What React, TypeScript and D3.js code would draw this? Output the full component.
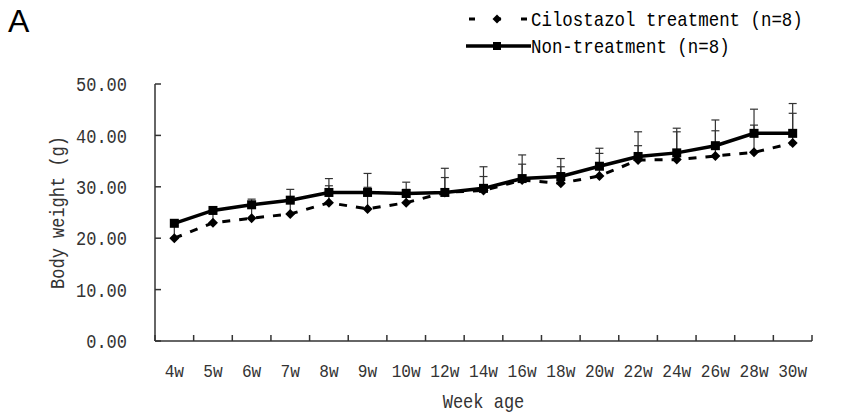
import React from 'react';
import * as d3 from 'd3';

const width = 857;
const height = 415;
const margin = {top: 84, right: 45, bottom: 74, left: 155};
const ink = '#000000';
const axisInk = '#333333';
const font = '"Liberation Mono", "DejaVu Sans Mono", monospace';

// week labels on the x axis
const weeks = ['4w', '5w', '6w', '7w', '8w', '9w', '10w', '12w', '14w', '16w', '18w', '20w', '22w', '24w', '26w', '28w', '30w'];
// mean body weight (g)
const nonTreatment = [22.9, 25.4, 26.5, 27.4, 28.9, 28.9, 28.7, 28.9, 29.7, 31.6, 32.0, 34.0, 35.9, 36.6, 38.0, 40.4, 40.4];
const cilostazol = [20.0, 23.0, 23.9, 24.7, 26.9, 25.7, 26.9, 28.9, 29.3, 31.3, 30.7, 32.1, 35.2, 35.3, 36.0, 36.7, 38.5];
// SD (upper error bars only)
const nonTreatmentSd = [0.6, 0.6, 1.1, 2.1, 2.7, 3.7, 2.2, 4.7, 4.2, 4.6, 3.5, 3.5, 4.8, 4.8, 5.0, 4.7, 5.8];
const cilostazolSd = [2.5, 2.0, 2.1, 2.3, 3.3, 4.2, 2.6, 2.9, 2.7, 3.1, 3.2, 4.4, 2.8, 5.4, 4.9, 5.3, 5.8];
const yTicks = [0, 10, 20, 30, 40, 50];
const legendLabels = ['Cilostazol treatment (n=8)', 'Non-treatment (n=8)'];

const xScale = d3.scaleBand<string>().domain(weeks).range([margin.left, width - margin.right]);
const yScale = d3.scaleLinear().domain([0, 50]).range([height - margin.bottom, margin.top]);
const cx = (w: string) => (xScale(w) as number) + xScale.bandwidth() / 2;

const line = d3.line<number>()
    .x((d, i) => cx(weeks[i]))
    .y(d => yScale(d));

function diamond(x: number, y: number, r: number) {
    return `M${x},${y - r}L${x + r},${y}L${x},${y + r}L${x - r},${y}Z`;
}

// narrow, tall text, a bit like the SimSun glyphs of the original
function Txt({x, y, size, anchor = 'start', rotate = 0, children}: any) {
    return (
        <text transform={`translate(${x},${y}) rotate(${rotate}) scale(0.85,1)`}
              fontSize={size} textAnchor={anchor} dy='0.36em'>{children}</text>
    );
}

function ErrorBars({means, sds}: {means: number[]; sds: number[]}) {
    return (
        <g stroke={axisInk} strokeWidth={1.2}>
            {means.map((m, i) => {
                const x = cx(weeks[i]);
                const top = yScale(m + sds[i]);
                return (
                    <g key={i}>
                        <line x1={x} x2={x} y1={yScale(m)} y2={top}/>
                        <line x1={x - 4} x2={x + 4} y1={top} y2={top}/>
                    </g>
                );
            })}
        </g>
    );
}

export default function App() {
    const y0 = height - margin.bottom;
    const x0 = margin.left;
    const x1 = width - margin.right;
    const boundaries = weeks.map(w => xScale(w) as number).concat([x1]);

    return (
        <svg width={width} height={height} style={{position: 'absolute', left: 0, top: 0, background: '#fff'}}>
            <text x={8} y={32} fontFamily='"Liberation Sans", Arial, sans-serif' fontSize={32}>A</text>

            {/* legend */}
            <g fontFamily={font} fill={ink}>
                <line x1={469} x2={530} y1={19} y2={19} stroke={ink} strokeWidth={3} strokeDasharray='6,20'/>
                <path d={diamond(497, 19, 4.5)} fill={ink}/>
                <Txt x={531} y={19} size={20.5}>{legendLabels[0]}</Txt>
                <line x1={466} x2={531} y1={46} y2={46} stroke={ink} strokeWidth={3.5}/>
                <rect x={493} y={42} width={8} height={8} fill={ink}/>
                <Txt x={531} y={46} size={20.5}>{legendLabels[1]}</Txt>
            </g>

            {/* axes */}
            <g stroke={axisInk} strokeWidth={1.5} fill='none'>
                <line x1={x0} x2={x0} y1={margin.top} y2={y0}/>
                <line x1={x0} x2={x1} y1={y0} y2={y0}/>
                {yTicks.map(t => (
                    <line key={t} x1={x0} x2={x0 + 6} y1={yScale(t)} y2={yScale(t)}/>
                ))}
                {boundaries.map((b, i) => (
                    <line key={i} x1={b} x2={b} y1={y0} y2={y0 - 6}/>
                ))}
            </g>
            <g fontFamily={font} fill={axisInk}>
                {yTicks.map(t => (
                    <Txt key={t} x={127} y={yScale(t)} size={20} anchor='end'>{t.toFixed(2)}</Txt>
                ))}
                {weeks.map(w => (
                    <Txt key={w} x={cx(w)} y={370} size={19} anchor='middle'>{w}</Txt>
                ))}
                <Txt x={(x0 + x1) / 2} y={401} size={20} anchor='middle'>Week age</Txt>
                <Txt x={57} y={(margin.top + y0) / 2} size={20} anchor='middle' rotate={-90}>Body weight (g)</Txt>
            </g>

            <ErrorBars means={cilostazol} sds={cilostazolSd}/>
            <ErrorBars means={nonTreatment} sds={nonTreatmentSd}/>

            <path d={line(cilostazol) || ''} fill='none' stroke={ink} strokeWidth={3} strokeDasharray='8,9'/>
            {cilostazol.map((v, i) => (
                <path key={i} d={diamond(cx(weeks[i]), yScale(v), 5)} fill={ink}/>
            ))}

            <path d={line(nonTreatment) || ''} fill='none' stroke={ink} strokeWidth={3.5}/>
            {nonTreatment.map((v, i) => (
                <rect key={i} x={cx(weeks[i]) - 4.5} y={yScale(v) - 4.5} width={9} height={9} fill={ink}/>
            ))}
        </svg>
    );
}
